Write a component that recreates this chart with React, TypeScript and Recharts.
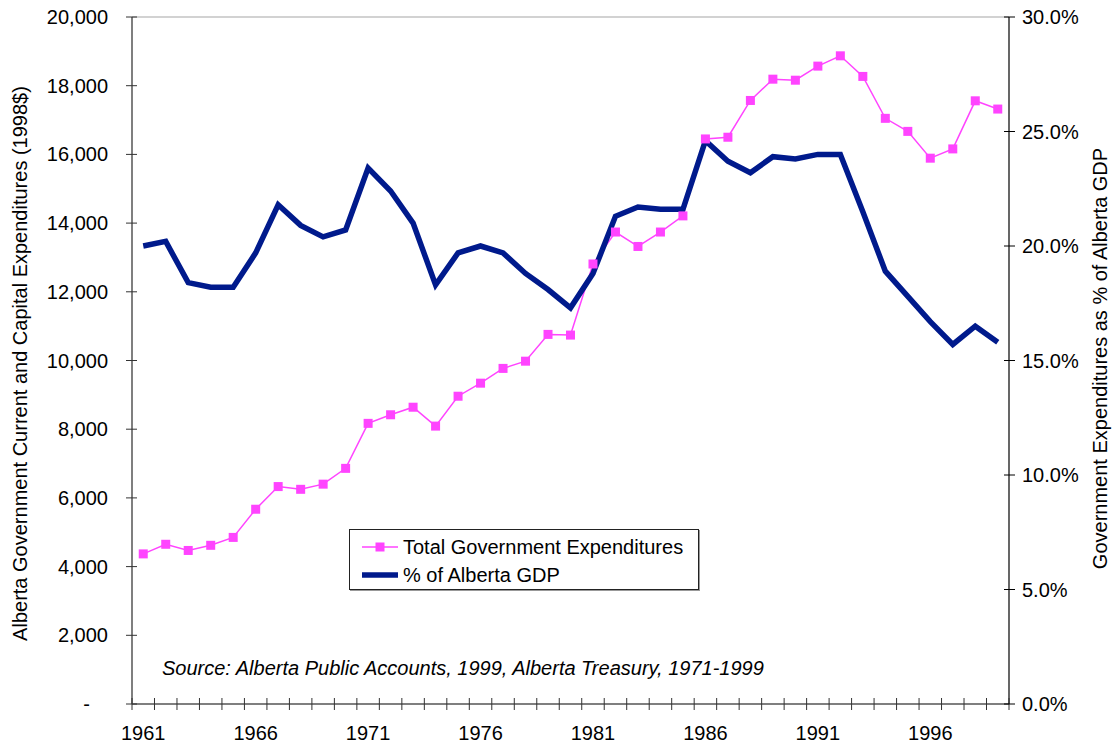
import React from 'react';
import { ComposedChart, Line, XAxis, YAxis, Legend, ReferenceLine } from 'recharts';

// Fiscal years shown on the category axis
const YEARS = [
  1961, 1962, 1963, 1964, 1965, 1966, 1967, 1968, 1969, 1970,
  1971, 1972, 1973, 1974, 1975, 1976, 1977, 1978, 1979, 1980,
  1981, 1982, 1983, 1984, 1985, 1986, 1987, 1988, 1989, 1990,
  1991, 1992, 1993, 1994, 1995, 1996, 1997, 1998, 1999,
];

// Total government current + capital expenditures, 1998 dollars (millions)
const TOTAL_EXPENDITURES = [
  4370, 4650, 4470, 4620, 4850, 5670, 6330, 6250, 6400, 6860,
  8170, 8420, 8640, 8090, 8960, 9340, 9770, 9980, 10760, 10740,
  12810, 13740, 13320, 13740, 14210, 16450, 16500, 17570, 18190, 18160,
  18570, 18870, 18270, 17050, 16670, 15890, 16160, 17560, 17320,
];

// Expenditures as a share of Alberta GDP (%)
const PCT_OF_GDP = [
  20.0, 20.2, 18.4, 18.2, 18.2, 19.7, 21.8, 20.9, 20.4, 20.7,
  23.4, 22.4, 21.0, 18.3, 19.7, 20.0, 19.7, 18.8, 18.1, 17.3,
  18.8, 21.3, 21.7, 21.6, 21.6, 24.6, 23.7, 23.2, 23.9, 23.8,
  24.0, 24.0, 21.5, 18.9, 17.8, 16.7, 15.7, 16.5, 15.8,
];

const LEFT_TICKS = [0, 2000, 4000, 6000, 8000, 10000, 12000, 14000, 16000, 18000, 20000];
const RIGHT_TICKS = [0, 5, 10, 15, 20, 25, 30];
const YEAR_LABELS = [1961, 1966, 1971, 1976, 1981, 1986, 1991, 1996];

const SERIES_NAMES = ['Total Government Expenditures', '% of Alberta GDP'];
const LEFT_TITLE = 'Alberta Government Current and Capital Expenditures (1998$)';
const RIGHT_TITLE = 'Government Expenditures as % of Alberta GDP';
const SOURCE_NOTE = 'Source: Alberta Public Accounts, 1999, Alberta Treasury, 1971-1999';

const PINK = '#ff44ff';
const NAVY = '#001a8c';
const FONT = '"Liberation Sans", Arial, Helvetica, sans-serif';

const data = YEARS.map((year, i) => ({
  year,
  total: TOTAL_EXPENDITURES[i],
  pct: PCT_OF_GDP[i],
}));

// Tick marks sit on the boundaries between years, labels on the year itself
const boundaryTicks = [YEARS[0] - 0.5, ...YEARS.map((y) => y + 0.5)];
const xTicks = [...boundaryTicks, ...YEAR_LABELS].sort((a, b) => a - b);

const fmtThousands = (v: number) => v.toLocaleString('en-US');

const LeftTick = (props: any) => {
  const { x, y, payload } = props;
  const isZero = payload.value === 0;
  return (
    <g>
      <line x1={x - 6} x2={x + 5} y1={y} y2={y} stroke="#333" strokeWidth={1} />
      <text
        x={isZero ? x - 42 : x - 24}
        y={y + 7}
        textAnchor="end"
        fontSize={20}
        fontFamily={FONT}
        fill="#000"
      >
        {isZero ? '-' : fmtThousands(payload.value)}
      </text>
    </g>
  );
};

const RightTick = (props: any) => {
  const { x, y, payload } = props;
  return (
    <g>
      <line x1={x - 5} x2={x + 6} y1={y} y2={y} stroke="#000" strokeWidth={1} />
      <text x={x + 13} y={y + 7} textAnchor="start" fontSize={20} fontFamily={FONT} fill="#000">
        {`${payload.value.toFixed(1)}%`}
      </text>
    </g>
  );
};

const YearTick = (props: any) => {
  const { x, y, payload } = props;
  const v = payload.value as number;
  if (Number.isInteger(v)) {
    return (
      <text x={x} y={y + 36} textAnchor="middle" fontSize={20} fontFamily={FONT} fill="#000">
        {v}
      </text>
    );
  }
  return <line x1={x} x2={x} y1={y - 6} y2={y + 6} stroke="#333" strokeWidth={1} />;
};

const SquareDot = (props: any) => {
  const { cx, cy, index } = props;
  if (cx == null || cy == null) return <g key={`sq-${index}`} />;
  return <rect key={`sq-${index}`} x={cx - 4.5} y={cy - 4.5} width={9} height={9} fill={PINK} />;
};

const LeftTitle = (props: any) => {
  const vb = props.viewBox;
  const x = vb.x + 20;
  const y = vb.y + vb.height / 2 + 3;
  return (
    <text
      x={x}
      y={y}
      transform={`rotate(-90 ${x} ${y})`}
      textAnchor="middle"
      dominantBaseline="central"
      fontSize={20}
      fontFamily={FONT}
      fill="#000"
    >
      {LEFT_TITLE}
    </text>
  );
};

const RightTitle = (props: any) => {
  const vb = props.viewBox;
  const x = vb.x + 91;
  const y = vb.y + vb.height / 2 - 2;
  return (
    <text
      x={x}
      y={y}
      transform={`rotate(-90 ${x} ${y})`}
      textAnchor="middle"
      dominantBaseline="central"
      fontSize={20}
      fontFamily={FONT}
      fill="#000"
    >
      {RIGHT_TITLE}
    </text>
  );
};

const LegendBox = () => (
  <div
    style={{
      border: '1px solid #222',
      boxShadow: '1px 1px 0 #999',
      background: '#fff',
      boxSizing: 'border-box',
      width: '100%',
      height: '100%',
      padding: '3px 0 0 12px',
      fontFamily: FONT,
      fontSize: 20,
      color: '#000',
    }}
  >
    <div style={{ display: 'flex', alignItems: 'center', height: 28 }}>
      <svg width={40} height={20} style={{ marginRight: 1 }}>
        <line x1={0} x2={36} y1={10} y2={10} stroke={PINK} strokeWidth={1.5} />
        <rect x={13.5} y={5.5} width={9} height={9} fill={PINK} />
      </svg>
      <span>{SERIES_NAMES[0]}</span>
    </div>
    <div style={{ display: 'flex', alignItems: 'center', height: 28 }}>
      <svg width={40} height={20} style={{ marginRight: 1 }}>
        <line x1={0} x2={36} y1={10} y2={10} stroke={NAVY} strokeWidth={5.5} />
      </svg>
      <span>{SERIES_NAMES[1]}</span>
    </div>
  </div>
);

export default function App() {
  return (
    <div
      style={{
        position: 'absolute',
        left: 0,
        top: 0,
        width: 1114,
        height: 747,
        background: '#fff',
        overflow: 'hidden',
      }}
    >
      <ComposedChart
        width={1114}
        height={747}
        data={data}
        margin={{ top: 17, right: 0, bottom: 0, left: 0 }}
      >
        <XAxis
          dataKey="year"
          type="number"
          domain={[YEARS[0] - 0.5, YEARS[YEARS.length - 1] + 0.5]}
          ticks={xTicks}
          interval={0}
          height={43}
          tickSize={0}
          tickMargin={0}
          tickLine={false}
          tick={<YearTick />}
          axisLine={{ stroke: '#000', strokeWidth: 1.2 }}
          allowDataOverflow
        />
        <YAxis
          yAxisId="left"
          orientation="left"
          width={132}
          domain={[0, 20000]}
          ticks={LEFT_TICKS}
          interval={0}
          tickSize={0}
          tickMargin={0}
          tickLine={false}
          tick={<LeftTick />}
          axisLine={{ stroke: '#555', strokeWidth: 1.5 }}
          label={{ content: <LeftTitle /> }}
        />
        <YAxis
          yAxisId="right"
          orientation="right"
          width={105}
          domain={[0, 30]}
          ticks={RIGHT_TICKS}
          interval={0}
          tickSize={0}
          tickMargin={0}
          tickLine={false}
          tick={<RightTick />}
          axisLine={{ stroke: '#000', strokeWidth: 1.2 }}
          label={{ content: <RightTitle /> }}
        />
        <ReferenceLine yAxisId="left" y={20000} stroke="#a6a6a6" strokeWidth={1.2} />
        <Legend
          align="center"
          verticalAlign="middle"
          layout="horizontal"
          content={<LegendBox />}
          wrapperStyle={{ left: 349, top: 529, width: 350, height: 61 }}
        />
        <Line
          yAxisId="left"
          dataKey="total"
          name={SERIES_NAMES[0]}
          type="linear"
          stroke={PINK}
          strokeWidth={1.5}
          dot={<SquareDot />}
          activeDot={false}
          isAnimationActive={false}
        />
        <Line
          yAxisId="right"
          dataKey="pct"
          name={SERIES_NAMES[1]}
          type="linear"
          stroke={NAVY}
          strokeWidth={5.5}
          strokeLinejoin="miter"
          dot={false}
          activeDot={false}
          isAnimationActive={false}
        />
      </ComposedChart>
      <div
        style={{
          position: 'absolute',
          left: 162,
          top: 658,
          fontFamily: FONT,
          fontSize: 20,
          lineHeight: '20px',
          fontStyle: 'italic',
          color: '#000',
          whiteSpace: 'nowrap',
        }}
      >
        {SOURCE_NOTE}
      </div>
    </div>
  );
}
